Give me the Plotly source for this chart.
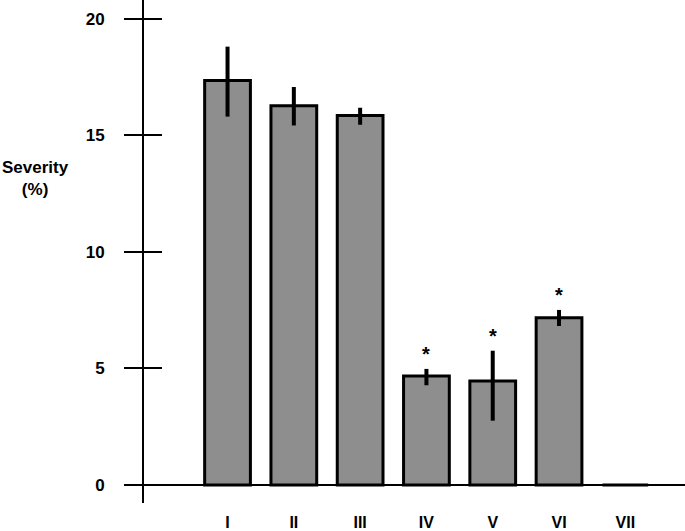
import plotly.graph_objects as go

# Groups and measured severity (%) with error bars
groups = ["I", "II", "III", "IV", "V", "VI", "VII"]
severity = [17.35, 16.27, 15.85, 4.68, 4.46, 7.17, 0.0]
err_plus = [1.45, 0.8, 0.33, 0.3, 1.3, 0.34, 0.0]
err_minus = [1.55, 0.85, 0.4, 0.4, 1.7, 0.35, 0.0]
# groups marked as significant
marked = ["IV", "V", "VI"]

y_ticks = [0, 5, 10, 15, 20]
y_range = [-0.77, 20.8]

font_main = "Liberation Sans, Arial, Helvetica, sans-serif"

fig = go.Figure()

fig.add_trace(go.Bar(
    x=groups,
    y=severity,
    width=0.69,
    marker=dict(color="#8e8e8e", line=dict(color="black", width=3)),
    error_y=dict(
        type="data",
        symmetric=False,
        array=err_plus,
        arrayminus=err_minus,
        color="black",
        thickness=4,
        width=0,
    ),
    showlegend=False,
))

# second y axis only to get ticks on the inner side as well
fig.add_trace(go.Scatter(x=[None], y=[None], yaxis="y2", showlegend=False))

# asterisks above the error bars
for g, v, e in zip(groups, severity, err_plus):
    if g in marked:
        fig.add_annotation(
            x=g, y=v + e,
            text="*",
            showarrow=False,
            yanchor="bottom",
            yshift=2,
            font=dict(family=font_main, size=20, color="black"),
        )

# y axis title, horizontal, to the left
fig.add_annotation(
    text="<b>Severity</b><br><b>(%)</b>",
    xref="paper", yref="paper",
    x=-0.20, y=0.645,
    xanchor="center", yanchor="middle",
    showarrow=False,
    align="center",
    font=dict(family=font_main, size=17, color="black"),
)

fig.update_layout(
    width=685,
    height=531,
    margin=dict(l=144, r=0, t=0, b=28),
    paper_bgcolor="white",
    plot_bgcolor="white",
    font=dict(family=font_main, size=17, color="black", weight="bold"),
    bargap=0.3,
    xaxis=dict(
        range=[-1.26, 6.9],
        showgrid=False,
        showline=False,
        zeroline=False,
        ticks="",
        ticklabelstandoff=8,
        tickfont=dict(family=font_main, size=16, color="black", weight="bold"),
    ),
    yaxis=dict(
        range=y_range,
        tickvals=y_ticks,
        showgrid=False,
        showline=True,
        linecolor="black",
        linewidth=2,
        zeroline=True,
        zerolinecolor="black",
        zerolinewidth=2,
        ticks="outside",
        ticklen=18,
        tickwidth=1.5,
        tickcolor="black",
        ticklabelstandoff=16,
        tickfont=dict(family=font_main, size=17, color="black", weight="bold"),
    ),
    yaxis2=dict(
        range=y_range,
        tickvals=y_ticks,
        overlaying="y",
        side="left",
        anchor="x",
        showgrid=False,
        showline=False,
        zeroline=False,
        ticks="inside",
        ticklen=18,
        tickwidth=1.5,
        tickcolor="black",
        showticklabels=False,
    ),
)

fig.write_html(
    "out.html",
    config={"displayModeBar": False},
    post_script="document.body.style.margin='0';",
)
